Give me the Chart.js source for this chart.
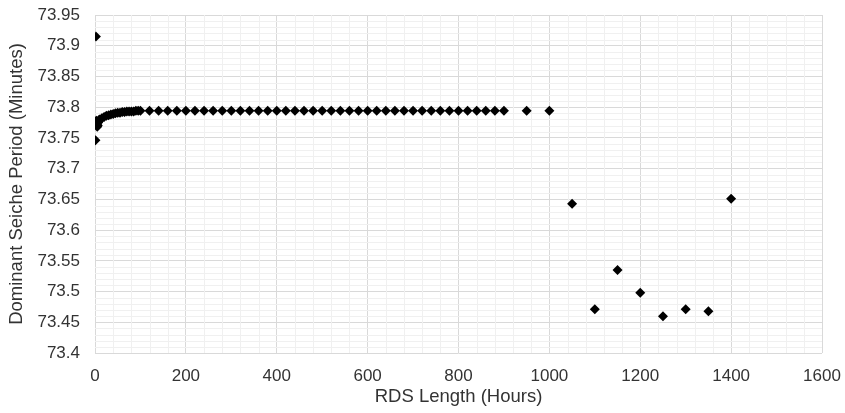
<!DOCTYPE html>
<html>
<head>
<meta charset="utf-8">
<script src="https://cdn.jsdelivr.net/npm/chart.js@4"></script>
<style>
  html, body { margin: 0; padding: 0; background: #fff; }
  #wrap { width: 845px; height: 413px; }
</style>
</head>
<body>
<div id="wrap"><canvas id="chart"></canvas></div>
<script>
// RDS length (hours) vs dominant seiche period (minutes)
const hours = [
  1, 2, 3, 4, 5, 6, 7, 8, 9, 10,
  15, 20, 25, 30, 35, 40, 45, 50, 55, 60, 65, 70, 75, 80, 85, 90, 95, 100,
  120, 140, 160, 180, 200, 220, 240, 260, 280, 300,
  320, 340, 360, 380, 400, 420, 440, 460, 480, 500,
  520, 540, 560, 580, 600, 620, 640, 660, 680, 700,
  720, 740, 760, 780, 800, 820, 840, 860, 880, 900,
  950, 1000, 1050, 1100, 1150, 1200, 1250, 1300, 1350, 1400
];
const periods = [
  73.746, 73.915, 73.778, 73.772, 73.768, 73.770, 73.775, 73.777, 73.779, 73.780,
  73.782, 73.784, 73.786, 73.787, 73.788, 73.789, 73.790, 73.791, 73.791, 73.792, 73.792, 73.793, 73.793, 73.793, 73.793, 73.794, 73.794, 73.794,
  73.794, 73.794, 73.794, 73.794, 73.794, 73.794, 73.794, 73.794, 73.794, 73.794,
  73.794, 73.794, 73.794, 73.794, 73.794, 73.794, 73.794, 73.794, 73.794, 73.794,
  73.794, 73.794, 73.794, 73.794, 73.794, 73.794, 73.794, 73.794, 73.794, 73.794,
  73.794, 73.794, 73.794, 73.794, 73.794, 73.794, 73.794, 73.794, 73.794, 73.794,
  73.794, 73.794, 73.643, 73.471, 73.535, 73.498, 73.460, 73.471, 73.468, 73.651
];
const xRange = [0, 1600];
const yRange = [73.4, 73.95];
const xMajor = 200, xMinor = 40;
const yMajor = 0.05, yMinor = 0.01;

const FONT = '"Liberation Sans", Arial, sans-serif';
const TEXT = '#333333';

// light minor grid drawn behind everything, positions from the chart scales
const minorGrid = {
    id: 'minorGrid',
    beforeDatasetsDraw(chart) {
        const { ctx, chartArea, scales } = chart;
        ctx.save();
        ctx.strokeStyle = '#f0f0f0';
        ctx.lineWidth = 1;
        ctx.beginPath();
        for (let v = xRange[0]; v <= xRange[1] + 1e-9; v += xMinor) {
            if (Math.abs(v / xMajor - Math.round(v / xMajor)) < 1e-6) continue;
            const px = Math.round(scales.x.getPixelForValue(v)) + 0.5;
            ctx.moveTo(px, chartArea.top);
            ctx.lineTo(px, chartArea.bottom);
        }
        for (let v = yRange[0]; v <= yRange[1] + 1e-9; v += yMinor) {
            if (Math.abs(v / yMajor - Math.round(v / yMajor)) < 1e-4) continue;
            const py = Math.round(scales.y.getPixelForValue(v)) + 0.5;
            ctx.moveTo(chartArea.left, py);
            ctx.lineTo(chartArea.right, py);
        }
        ctx.stroke();
        ctx.restore();
    }
};

new Chart(document.getElementById('chart'), {
    type: 'scatter',
    data: {
        datasets: [{
            label: 'Dominant Seiche Period',
            data: hours.map((h, i) => ({ x: h, y: periods[i] })),
            pointStyle: 'rectRot',
            pointRadius: 5,
            backgroundColor: '#000',
            borderColor: '#000',
            borderWidth: 0
        }]
    },
    options: {
        responsive: true,
        maintainAspectRatio: false,
        animation: false,
        layout: { padding: { top: 15, right: 23, bottom: 0, left: 2 } },
        plugins: {
            legend: { display: false },
            tooltip: { enabled: false }
        },
        scales: {
            x: {
                type: 'linear',
                min: xRange[0],
                max: xRange[1],
                ticks: {
                    stepSize: xMajor, color: TEXT, font: { family: FONT, size: 17 }, padding: 13,
                    callback: v => String(v)
                },
                grid: { color: '#d9d9d9', drawTicks: false },
                border: { display: false },
                title: { display: true, text: 'RDS Length (Hours)', color: TEXT, font: { family: FONT, size: 18.5 }, padding: { top: 0, bottom: 5 } },
                afterFit(scale) {
                    scale.height = 60;
                    scale.paddingLeft = 0;
                    scale.paddingRight = 0;
                }
            },
            y: {
                type: 'linear',
                min: yRange[0],
                max: yRange[1],
                ticks: {
                    stepSize: yMajor, color: TEXT, font: { family: FONT, size: 17 }, padding: 15,
                    callback: v => String(+v.toFixed(2))
                },
                grid: { color: '#d9d9d9', drawTicks: false },
                border: { display: false },
                title: { display: true, text: 'Dominant Seiche Period (Minutes)', color: TEXT, font: { family: FONT, size: 18.5 }, padding: { top: 4, bottom: 0 } },
                afterFit(scale) {
                    scale.width = 93;
                    scale.paddingTop = 0;
                    scale.paddingBottom = 0;
                }
            }
        }
    },
    plugins: [minorGrid]
});
</script>
</body>
</html>
